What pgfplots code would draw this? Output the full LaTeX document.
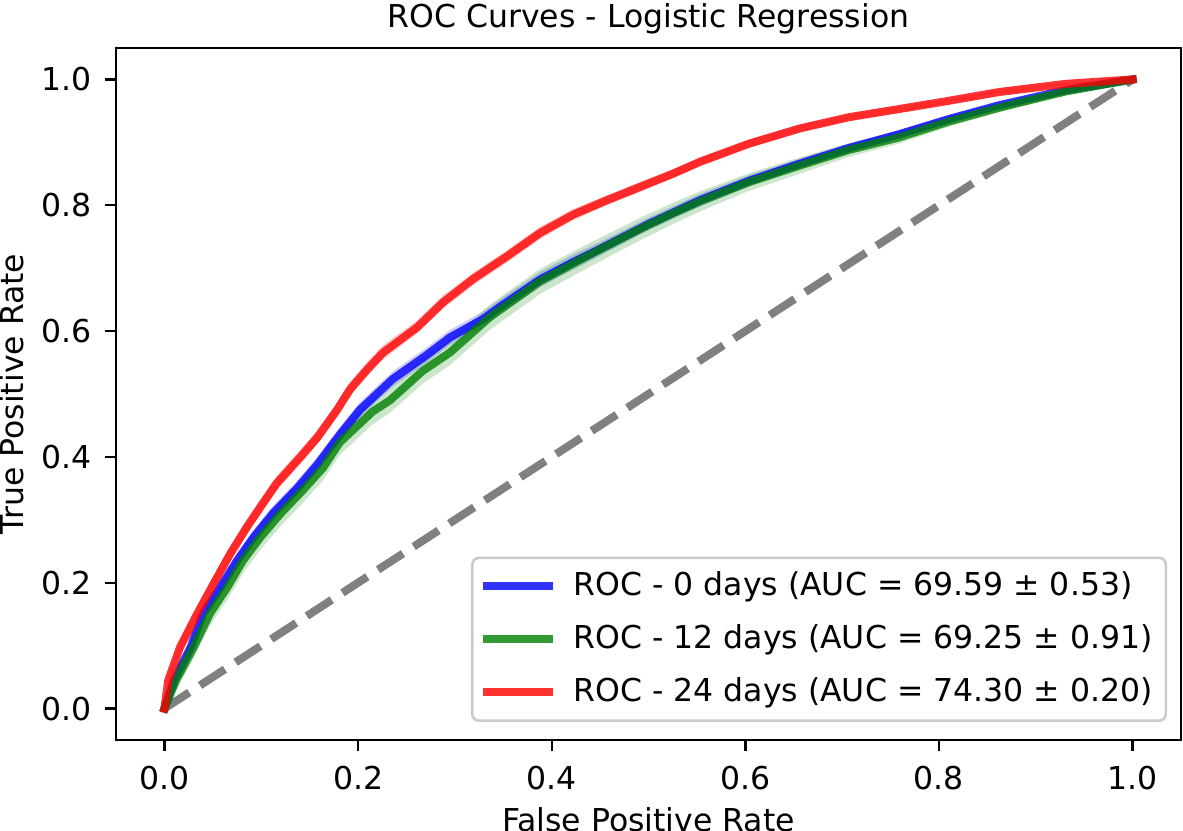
\documentclass[border=0pt]{standalone}
\usepackage{fontspec}
\setmainfont{DejaVu Sans}
\usepackage{pgfplots}
\usepgfplotslibrary{fillbetween}
\usepackage{pgfplotstable}
\pgfplotsset{compat=1.18}
\definecolor{mplblue}{RGB}{0,0,255}
\definecolor{mplgreen}{RGB}{0,128,0}
\definecolor{mplred}{RGB}{255,0,0}
\definecolor{mplgray}{RGB}{128,128,128}

\pgfplotstableread{
x y lo hi
0.000 0.000 0.000 0.000
0.004 0.045 0.037 0.055
0.016 0.097 0.087 0.109
0.034 0.151 0.140 0.163
0.051 0.199 0.188 0.211
0.068 0.246 0.235 0.258
0.085 0.288 0.277 0.300
0.099 0.320 0.309 0.332
0.116 0.358 0.347 0.370
0.140 0.399 0.388 0.411
0.158 0.431 0.420 0.443
0.178 0.474 0.463 0.486
0.192 0.508 0.497 0.520
0.210 0.540 0.529 0.552
0.226 0.566 0.555 0.578
0.261 0.606 0.596 0.617
0.288 0.646 0.636 0.657
0.319 0.683 0.673 0.693
0.354 0.719 0.709 0.729
0.388 0.756 0.746 0.766
0.422 0.785 0.776 0.794
0.457 0.808 0.800 0.816
0.491 0.829 0.821 0.837
0.525 0.850 0.843 0.857
0.553 0.869 0.862 0.876
0.604 0.898 0.892 0.904
0.656 0.922 0.917 0.927
0.707 0.940 0.936 0.944
0.759 0.953 0.949 0.957
0.810 0.966 0.963 0.969
0.862 0.980 0.977 0.983
0.931 0.993 0.991 0.995
1.000 1.000 1.000 1.000
}\redtab

\pgfplotstableread{
x y lo hi
0.000 0.000 0.000 0.000
0.010 0.045 0.036 0.055
0.027 0.097 0.086 0.108
0.040 0.151 0.139 0.163
0.058 0.193 0.181 0.205
0.075 0.235 0.223 0.247
0.092 0.272 0.260 0.284
0.112 0.310 0.298 0.322
0.137 0.350 0.338 0.362
0.158 0.388 0.376 0.400
0.181 0.435 0.423 0.447
0.202 0.475 0.463 0.487
0.236 0.524 0.512 0.536
0.271 0.562 0.550 0.574
0.295 0.590 0.578 0.602
0.329 0.619 0.607 0.631
0.346 0.638 0.626 0.650
0.388 0.682 0.670 0.694
0.420 0.708 0.696 0.720
0.449 0.730 0.719 0.741
0.501 0.771 0.761 0.781
0.553 0.808 0.798 0.818
0.604 0.839 0.830 0.848
0.656 0.866 0.858 0.874
0.707 0.891 0.884 0.898
0.759 0.913 0.907 0.919
0.810 0.937 0.932 0.942
0.862 0.959 0.955 0.963
0.931 0.983 0.980 0.986
1.000 1.000 1.000 1.000
}\bluetab

\pgfplotstableread{
x y lo hi
0.000 0.000 0.000 0.000
0.012 0.045 0.030 0.060
0.030 0.097 0.079 0.115
0.047 0.151 0.132 0.170
0.065 0.193 0.173 0.213
0.081 0.235 0.215 0.255
0.099 0.272 0.252 0.292
0.120 0.310 0.290 0.330
0.143 0.347 0.327 0.367
0.164 0.383 0.363 0.403
0.181 0.423 0.403 0.443
0.215 0.472 0.452 0.492
0.233 0.490 0.470 0.510
0.267 0.537 0.517 0.557
0.295 0.566 0.546 0.586
0.336 0.622 0.602 0.642
0.388 0.679 0.659 0.699
0.439 0.721 0.702 0.740
0.491 0.762 0.744 0.780
0.525 0.787 0.770 0.804
0.553 0.806 0.790 0.822
0.604 0.837 0.823 0.851
0.656 0.863 0.850 0.876
0.707 0.888 0.877 0.899
0.759 0.908 0.898 0.918
0.810 0.933 0.925 0.941
0.862 0.955 0.948 0.962
0.931 0.981 0.977 0.985
1.000 1.000 1.000 1.000
}\greentab

\begin{document}
\begin{tikzpicture}
\begin{axis}[
  scale only axis,
  width=319.5pt, height=207.6pt,
  xmin=-0.05, xmax=1.05, ymin=-0.05, ymax=1.05,
  xtick={0,0.2,0.4,0.6,0.8,1.0},
  ytick={0,0.2,0.4,0.6,0.8,1.0},
  xtick pos=left, ytick pos=left,
  tick align=outside,
  major tick length=3.3pt,
  every tick/.style={black, line width=0.7pt},
  axis line style={line width=0.8pt},
  /pgf/number format/assume math mode=true,
  xticklabel style={font=\fontsize{9.45}{11}\selectfont, inner sep=0pt, anchor=north, yshift=-4.2pt, /pgf/number format/.cd, fixed, fixed zerofill, precision=1},
  yticklabel style={font=\fontsize{9.45}{11}\selectfont, inner sep=0pt, anchor=east, xshift=-3.9pt, /pgf/number format/.cd, fixed, fixed zerofill, precision=1},
  title={ROC Curves - Logistic Regression},
  title style={font=\fontsize{9.45}{11}\selectfont, at={(rel axis cs:0.5,1)}, anchor=base, inner sep=0pt},
  xlabel={False Positive Rate},
  ylabel={True Positive Rate},
  xlabel style={font=\fontsize{9.45}{11}\selectfont, at={(rel axis cs:0.5,0)}, anchor=north, yshift=-20.1pt, inner sep=0pt},
  ylabel style={font=\fontsize{9.45}{11}\selectfont, at={(rel axis cs:0,0.5)}, anchor=south, yshift=27.3pt, inner sep=0pt},
  legend cell align=left,
  legend style={at={(0.987,0.026)}, anchor=south east, font=\fontsize{9.45}{11}\selectfont,
    draw=black!20, line width=0.8pt, rounded corners=2pt, fill=white, fill opacity=0.8, text opacity=1,
    inner xsep=2pt, inner ysep=2.2pt, row sep=3.2pt},
  legend image code/.code={\draw[#1, line width=2.4pt, line cap=butt, opacity=0.8] (-0.6pt,0pt) -- (20.4pt,0pt); \path (23.4pt,0pt);},
]
\addplot[mplgray, line width=2.4pt, dash pattern=on 8.9pt off 3.84pt, forget plot] coordinates {(0,0) (1,1)};

% bands
\addplot[name path=bU, draw=none, forget plot] table[x=x, y=hi] {\bluetab};
\addplot[name path=bL, draw=none, forget plot] table[x=x, y=lo] {\bluetab};
\addplot[mplblue, fill opacity=0.2, draw=none, forget plot] fill between[of=bU and bL];
\addplot[name path=gU, draw=none, forget plot] table[x=x, y=hi] {\greentab};
\addplot[name path=gL, draw=none, forget plot] table[x=x, y=lo] {\greentab};
\addplot[mplgreen, fill opacity=0.2, draw=none, forget plot] fill between[of=gU and gL];
\addplot[name path=rU, draw=none, forget plot] table[x=x, y=hi] {\redtab};
\addplot[name path=rL, draw=none, forget plot] table[x=x, y=lo] {\redtab};
\addplot[mplred, fill opacity=0.2, draw=none, forget plot] fill between[of=rU and rL];

\addplot[mplblue, line width=2.4pt, opacity=0.8, line cap=rect, line join=round] table[x=x, y=y] {\bluetab};
\addlegendentry{ROC - 0 days (AUC = 69.59 ± 0.53)}
\addplot[mplgreen, line width=2.4pt, opacity=0.8, line cap=rect, line join=round] table[x=x, y=y] {\greentab};
\addlegendentry{ROC - 12 days (AUC = 69.25 ± 0.91)}
\addplot[mplred, line width=2.4pt, opacity=0.8, line cap=rect, line join=round] table[x=x, y=y] {\redtab};
\addlegendentry{ROC - 24 days (AUC = 74.30 ± 0.20)}
\end{axis}
\pgfresetboundingbox
\path[use as bounding box] ([xshift=-34.8pt,yshift=-27pt]current axis.south west) rectangle ([xshift=0.6pt,yshift=14.4pt]current axis.north east);
\end{tikzpicture}
\end{document}
